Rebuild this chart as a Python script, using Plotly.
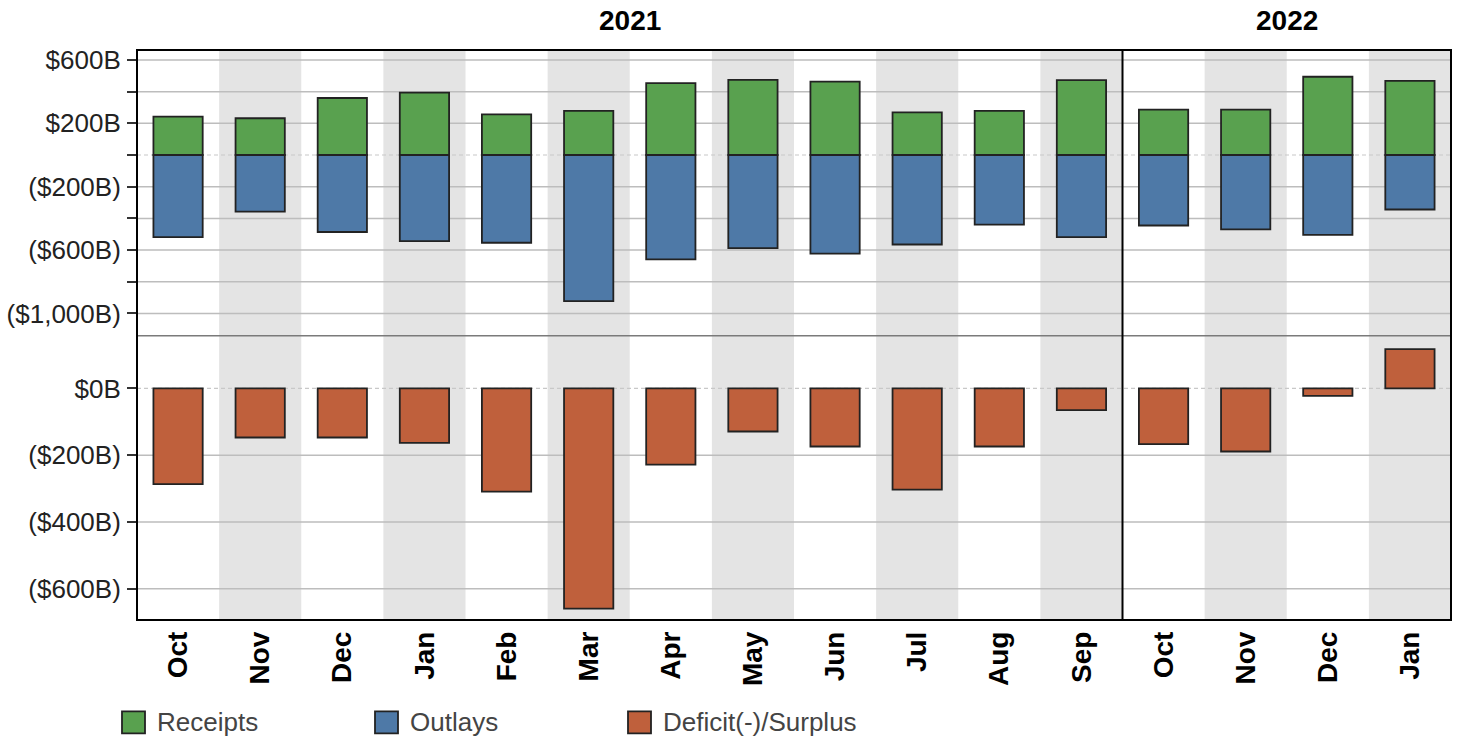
import plotly.graph_objects as go

# ---------------- data (values in $ billions) ----------------
months = ["Oct", "Nov", "Dec", "Jan", "Feb", "Mar", "Apr", "May", "Jun", "Jul", "Aug", "Sep",
          "Oct", "Nov", "Dec", "Jan"]
fiscal_years = ["2021"] * 12 + ["2022"] * 4
receipts = [243, 232, 360, 394, 256, 279, 454, 475, 463, 269, 279, 473, 287, 287, 494, 468]
outlays = [-518, -358, -486, -544, -554, -923, -659, -588, -623, -565, -439, -518, -445, -470, -504, -344]
deficit = [-287, -147, -147, -163, -309, -660, -228, -129, -174, -303, -174, -65, -167, -189, -22, 118]

top_tickvals = [600, 200, -200, -600, -1000]
top_ticktext = ["$600B", "$200B", "($200B)", "($600B)", "($1,000B)"]
top_minor_tickvals = [400, 0, -400, -800]
bot_tickvals = [0, -200, -400, -600]
bot_ticktext = ["$0B", "($200B)", "($400B)", "($600B)"]

legend_names = ["Receipts", "Outlays", "Deficit(-)/Surplus"]

# ---------------- styling ----------------
C_REC = "#59a14f"
C_OUT = "#4e79a7"
C_DEF = "#bf603c"
C_SHADE = "#e4e4e4"
C_GRID = "#bdbdbd"
FONT = "Arial, Liberation Sans, sans-serif"

W, H = 1458, 742
L, R, T, B = 137, 7, 50, 121.5
plot_w = W - L - R
plot_h = H - T - B
split = 284.5 / plot_h  # bottom panel fraction

def px_x(px):
    return (px - L) / plot_w

def px_y(py):
    return (H - B - py) / plot_h

x = list(range(len(months)))

fig = go.Figure()
bar_line = dict(color="#222222", width=1.8)
fig.add_trace(go.Bar(x=x, y=receipts, name=legend_names[0], marker=dict(color=C_REC, line=bar_line),
                     xaxis="x", yaxis="y", showlegend=False, width=0.6))
fig.add_trace(go.Bar(x=x, y=outlays, name=legend_names[1], marker=dict(color=C_OUT, line=bar_line),
                     xaxis="x", yaxis="y", showlegend=False, width=0.6))
fig.add_trace(go.Bar(x=x, y=deficit, name=legend_names[2], marker=dict(color=C_DEF, line=bar_line),
                     xaxis="x2", yaxis="y2", showlegend=False, width=0.6))

shapes = []
# alternating column shading
for i in x:
    if i % 2 == 1:
        shapes.append(dict(type="rect", xref="x", yref="paper", x0=i - 0.5, x1=i + 0.5, y0=0, y1=1,
                           fillcolor=C_SHADE, line=dict(width=0), layer="below"))
# gridlines
for v in [600, 400, 200, -200, -400, -600, -800, -1000]:
    shapes.append(dict(type="line", xref="paper", yref="y", x0=0, x1=1, y0=v, y1=v,
                       line=dict(color=C_GRID, width=1.5), layer="between"))
for v in [-200, -400, -600]:
    shapes.append(dict(type="line", xref="paper", yref="y2", x0=0, x1=1, y0=v, y1=v,
                       line=dict(color=C_GRID, width=1.5), layer="between"))
for yr in ["y", "y2"]:
    shapes.append(dict(type="line", xref="paper", yref=yr, x0=0, x1=1, y0=0, y1=0,
                       line=dict(color="#c8c8c8", width=1.2, dash="4px,3px"), layer="between"))
# panel separator
shapes.append(dict(type="line", xref="paper", yref="paper", x0=0, x1=1, y0=split, y1=split,
                   line=dict(color="#7a7a7a", width=1.6), layer="above"))
# fiscal year divider
n2021 = fiscal_years.count("2021")
shapes.append(dict(type="line", xref="x", yref="paper", x0=n2021 - 0.5, x1=n2021 - 0.5, y0=0, y1=1,
                   line=dict(color="black", width=2), layer="above"))
# frame
shapes.append(dict(type="rect", xref="paper", yref="paper", x0=0, x1=1, y0=0, y1=1,
                   line=dict(color="black", width=2), layer="above"))

# manual legend
annotations = []
legend_left = [122, 375, 628]
for name, col, lx in zip(legend_names, [C_REC, C_OUT, C_DEF], legend_left):
    shapes.append(dict(type="rect", xref="paper", yref="paper",
                       x0=px_x(lx), x1=px_x(lx + 23), y0=px_y(734), y1=px_y(712),
                       fillcolor=col, line=dict(color="#222222", width=1.8), layer="above"))
    annotations.append(dict(text=name, xref="paper", yref="paper", x=px_x(lx + 33), y=px_y(723),
                            xanchor="left", yanchor="middle", showarrow=False,
                            font=dict(family=FONT, size=26, color="#444444")))

# year labels
years = ["2021", "2022"]
for yr in years:
    idx = [i for i, f in enumerate(fiscal_years) if f == yr]
    cx = (idx[0] + idx[-1]) / 2
    annotations.append(dict(text="<b>%s</b>" % yr, xref="x", yref="paper", x=cx, y=px_y(20),
                            xanchor="center", yanchor="middle", showarrow=False,
                            font=dict(family=FONT, size=28, color="black")))

fig.update_layout(
    width=W, height=H,
    margin=dict(l=L, r=R, t=T, b=B, pad=0),
    paper_bgcolor="white", plot_bgcolor="white",
    barmode="relative", bargap=0.4,
    font=dict(family=FONT, color="#222222"),
    shapes=shapes, annotations=annotations,
    showlegend=False,
    xaxis=dict(domain=[0, 1], anchor="y", range=[-0.5, len(months) - 0.5], showticklabels=False,
               showgrid=False, zeroline=False, ticks=""),
    xaxis2=dict(domain=[0, 1], anchor="y2", matches="x", range=[-0.5, len(months) - 0.5],
                tickmode="array", tickvals=x, ticktext=months, tickangle=-90, ticks="",
                tickfont=dict(family=FONT, size=28, color="black", weight="bold"),
                showgrid=False, zeroline=False, ticklabelstandoff=5),
    yaxis=dict(domain=[split, 1], anchor="x", range=[-1141, 663], tickmode="array",
               tickvals=top_tickvals, ticktext=top_ticktext, ticks="outside", ticklen=9, tickwidth=2,
               tickcolor="#333333", showgrid=False, zeroline=False, showline=False,
               tickfont=dict(family=FONT, size=26, color="#222222"), ticklabelstandoff=1,
               minor=dict(tickmode="array", tickvals=top_minor_tickvals, ticks="outside", ticklen=9,
                          tickwidth=2, tickcolor="#333333", showgrid=False)),
    yaxis2=dict(domain=[0, split], anchor="x2", range=[-694, 158], tickmode="array",
                tickvals=bot_tickvals, ticktext=bot_ticktext, ticks="outside", ticklen=9, tickwidth=2,
                tickcolor="#333333", showgrid=False, zeroline=False, showline=False,
                tickfont=dict(family=FONT, size=26, color="#222222"), ticklabelstandoff=1),
)

fig.write_html("out.html", config={"displayModeBar": False},
               post_script="document.body.style.margin='0';document.body.style.overflow='hidden';")
